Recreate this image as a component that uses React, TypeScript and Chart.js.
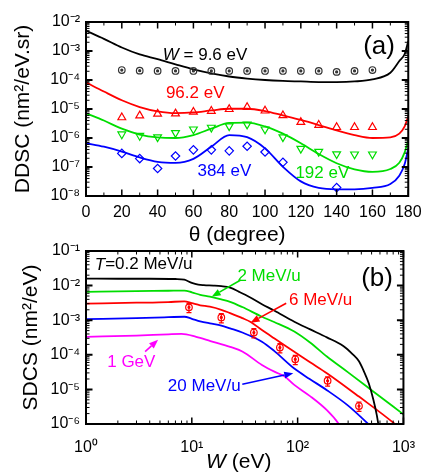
import React, { useEffect, useRef } from 'react';
import { Chart, registerables } from 'chart.js';

Chart.register(...registerables);

const FONT = '"Liberation Sans", Arial, Helvetica, sans-serif';

// ---------------- Panel (a): DDSC vs emission angle ----------------
const thetaTicks = [0, 20, 40, 60, 80, 100, 120, 140, 160, 180];
const thetaMinor = [10, 30, 50, 70, 90, 110, 130, 150, 170];
const ddcsTicks = [1e-8, 1e-7, 1e-6, 1e-5, 1e-4, 1e-3, 1e-2];

const thetaCurve = [0, 10, 20, 30, 40, 50, 60, 70, 80, 90, 100, 110, 120, 130, 140, 150, 160, 170, 175, 178, 180];
const ddcsCurveW9_6 = [5.0e-3, 2.63e-3, 1.32e-3, 7.6e-4, 5.25e-4, 3.47e-4, 2.34e-4, 1.7e-4, 1.32e-4, 1.12e-4, 1.0e-4, 9.3e-5, 8.9e-5, 8.5e-5, 8.5e-5, 8.9e-5, 1.05e-4, 1.78e-4, 4.5e-4, 7.9e-4, 2.2e-3];
const ddcsCurveW96_2 = [8.3e-5, 4.0e-5, 2.0e-5, 1.17e-5, 8.3e-6, 7.2e-6, 7.6e-6, 8.9e-6, 1.02e-5, 1.02e-5, 8.5e-6, 6.0e-6, 4.2e-6, 2.8e-6, 1.82e-6, 1.26e-6, 1.0e-6, 1.05e-6, 1.41e-6, 2.5e-6, 5.6e-6];
const ddcsCurveW192 = [7.1e-6, 4.0e-6, 2.1e-6, 1.32e-6, 1.05e-6, 1.0e-6, 1.26e-6, 2.1e-6, 3.3e-6, 3.4e-6, 2.5e-6, 1.41e-6, 6.6e-7, 2.8e-7, 1.35e-7, 8.3e-8, 6.8e-8, 8.5e-8, 1.41e-7, 3.2e-7, 8.5e-7];
const ddcsCurveW384 = [6.6e-7, 5.0e-7, 3.4e-7, 2.14e-7, 1.51e-7, 1.38e-7, 1.9e-7, 5.0e-7, 1.26e-6, 1.07e-6, 4.4e-7, 1.02e-7, 3.2e-8, 1.9e-8, 1.7e-8, 1.7e-8, 1.9e-8, 2.6e-8, 5.0e-8, 1.26e-7, 4.4e-7];

const thetaExp = [20, 30, 40, 50, 60, 70, 80, 90, 100, 110, 120, 130, 140, 150, 160];
const ddcsExpW9_6 = [2.2e-4, 2.1e-4, 2.05e-4, 2.05e-4, 2.05e-4, 2.05e-4, 2.05e-4, 2.05e-4, 2.05e-4, 2.05e-4, 2.05e-4, 2.05e-4, 1.9e-4, 2.05e-4, 2.2e-4];
const ddcsExpW96_2 = [5.1e-6, 5.9e-6, 6.8e-6, 6.9e-6, 7.9e-6, 8.5e-6, 9.8e-6, 1.15e-5, 8.7e-6, 6.0e-6, 3.5e-6, 2.8e-6, 2.35e-6, 2.35e-6, 2.35e-6];
const ddcsExpW192 = [1.35e-6, 1.2e-6, 1.07e-6, 1.5e-6, 2.0e-6, 2.3e-6, 2.57e-6, 2.95e-6, 2.0e-6, 1.07e-6, 4.3e-7, 3.4e-7, 2.8e-7, 2.75e-7, 2.75e-7];
const thetaExp384 = [20, 30, 40, 50, 60, 70, 80, 90, 100, 110, 140];
const ddcsExpW384 = [2.95e-7, 1.95e-7, 8.9e-8, 2.4e-7, 3.9e-7, 3.9e-7, 3.6e-7, 5.2e-7, 3.3e-7, 1.45e-7, 1.95e-8];

// ---------------- Panel (b): SDCS vs electron energy ----------------
const wTicks = [1, 10, 100, 1000];
const sdcsTicks = [1e-6, 1e-5, 1e-4, 1e-3, 1e-2, 1e-1];

const wT02 = [1, 2, 4, 7, 8.5, 10, 11.5, 13, 16, 19, 23, 28, 35, 46, 60, 93, 130, 189, 270, 330, 380, 420, 470, 520, 560, 600];
const sdcsT02 = [1.6e-2, 1.58e-2, 1.58e-2, 1.55e-2, 1.48e-2, 1.2e-2, 1.07e-2, 1.03e-2, 1.0e-2, 9.6e-3, 8.7e-3, 6.6e-3, 4.7e-3, 2.9e-3, 1.9e-3, 9.0e-4, 5.5e-4, 3.2e-4, 1.8e-4, 1.05e-4, 6.5e-5, 3.5e-5, 1.5e-5, 5e-6, 1.8e-6, 5e-7];

const wT2 = [1, 3, 6, 8.5, 10, 12, 14.8, 19, 23, 30, 46, 60, 93, 130, 189, 300, 500, 1000];
const sdcsT2 = [6.6e-3, 6.9e-3, 7.1e-3, 7.2e-3, 6.4e-3, 5.4e-3, 4.8e-3, 4.0e-3, 3.4e-3, 2.4e-3, 1.26e-3, 8.9e-4, 4.7e-4, 2.3e-4, 8.9e-5, 3.1e-5, 9.5e-6, 1.9e-6];

const wT6 = [1, 3, 6, 8.5, 10, 12, 14.8, 19, 23, 30, 36, 46, 60, 93, 130, 189, 380, 830, 900];
const sdcsT6 = [3.0e-3, 3.2e-3, 3.35e-3, 3.5e-3, 3.1e-3, 2.7e-3, 2.45e-3, 2.0e-3, 1.6e-3, 1.15e-3, 8.9e-4, 5.2e-4, 3.0e-4, 1.23e-4, 6.2e-5, 2.95e-5, 6.2e-6, 1.0e-6, 8e-7];

const wT20 = [1, 3, 6, 8.5, 10, 12, 14.8, 19, 23, 30, 46, 60, 93, 130, 189, 300, 465, 500];
const sdcsT20 = [1.07e-3, 1.15e-3, 1.22e-3, 1.26e-3, 1.1e-3, 9.3e-4, 8.1e-4, 7.0e-4, 5.8e-4, 4.4e-4, 2.4e-4, 1.3e-4, 4.0e-5, 2.0e-5, 9.5e-6, 3.4e-6, 1.0e-6, 8e-7];

const wT1G = [1, 3, 6, 8, 11, 15, 23, 30, 46, 61, 75, 93, 130, 189, 245, 270];
const sdcsT1G = [3.3e-4, 3.6e-4, 3.9e-4, 4.0e-4, 3.3e-4, 2.5e-4, 1.7e-4, 1.25e-4, 5.1e-5, 3.2e-5, 2.4e-5, 1.35e-5, 6.5e-6, 2.5e-6, 1.0e-6, 6e-7];

const wExp6 = [9.4, 19, 38.6, 68, 95, 192, 380];
const sdcsExp6 = [2.35e-3, 1.2e-3, 4.4e-4, 1.62e-4, 7.4e-5, 1.78e-5, 3.3e-6];
const errRelExp6 = [0.3, 0.3, 0.3, 0.3, 0.3, 0.3, 0.3];

// ---------------- helpers ----------------
const SUP: Record<string, string> = { '-': '⁻', '0': '⁰', '1': '¹', '2': '²', '3': '³', '4': '⁴', '5': '⁵', '6': '⁶', '7': '⁷', '8': '⁸', '9': '⁹' };
const pow10Label = (v: number) => {
  const e = Math.round(Math.log10(v));
  return '10' + String(e).split('').map((c) => SUP[c]).join('');
};
const logMinor = (lo: number, hi: number) => {
  const out: number[] = [];
  for (let d = lo; d < hi; d++) for (let k = 2; k <= 9; k++) out.push(k * Math.pow(10, d));
  return out;
};

type Part = { t: string; it?: boolean };
type Note = { x: number; y: number; parts: Part[]; color: string; size: number; align?: 'left' | 'center' };
type Arrow = { x1: number; y1: number; x2: number; y2: number; color: string };

function drawParts(ctx: CanvasRenderingContext2D, parts: Part[], x: number, y: number, size: number, color: string, align: string) {
  const fonts = parts.map((p) => `${p.it ? 'italic ' : ''}${size}px ${FONT}`);
  const widths = parts.map((p, i) => {
    ctx.font = fonts[i];
    return ctx.measureText(p.t).width;
  });
  const total = widths.reduce((a, b) => a + b, 0);
  let cx = align === 'left' ? x : x - total / 2;
  ctx.fillStyle = color;
  ctx.textBaseline = 'middle';
  ctx.textAlign = 'left';
  parts.forEach((p, i) => {
    ctx.font = fonts[i];
    ctx.fillText(p.t, cx, y);
    cx += widths[i];
  });
}

function makeDecor(o: {
  xMajor: number[]; xMinor: number[]; yMajor: number[]; yMinor: number[];
  notes: Note[]; arrows: Arrow[]; xTitle: Part[]; xTitleY: number; xTitleShift: number;
  err?: { xs: number[]; ys: number[]; rel: number[]; color: string };
}) {
  return {
    id: 'decor',
    afterDatasetsDraw(chart: any) {
      const { ctx, chartArea: a, scales } = chart;
      const sx = scales.x, sy = scales.y;
      ctx.save();
      // error bars
      if (o.err) {
        ctx.strokeStyle = o.err.color;
        ctx.lineWidth = 1.2;
        o.err.xs.forEach((xv, i) => {
          const px = sx.getPixelForValue(xv);
          const y1 = sy.getPixelForValue(o.err!.ys[i] * (1 + o.err!.rel[i]));
          const y2 = sy.getPixelForValue(o.err!.ys[i] * (1 - o.err!.rel[i]));
          ctx.beginPath();
          ctx.moveTo(px, y1); ctx.lineTo(px, y2);
          ctx.moveTo(px - 2.5, y1); ctx.lineTo(px + 2.5, y1);
          ctx.moveTo(px - 2.5, y2); ctx.lineTo(px + 2.5, y2);
          ctx.stroke();
        });
      }
      // inward ticks on all four sides
      ctx.strokeStyle = '#000';
      const xt = (vals: number[], len: number, lw: number) => {
        ctx.lineWidth = lw;
        ctx.beginPath();
        vals.forEach((v) => {
          const p = sx.getPixelForValue(v);
          if (p < a.left - 0.5 || p > a.right + 0.5) return;
          ctx.moveTo(p, a.bottom); ctx.lineTo(p, a.bottom - len);
          ctx.moveTo(p, a.top); ctx.lineTo(p, a.top + len);
        });
        ctx.stroke();
      };
      const yt = (vals: number[], len: number, lw: number) => {
        ctx.lineWidth = lw;
        ctx.beginPath();
        vals.forEach((v) => {
          const p = sy.getPixelForValue(v);
          if (p < a.top - 0.5 || p > a.bottom + 0.5) return;
          ctx.moveTo(a.left, p); ctx.lineTo(a.left + len, p);
          ctx.moveTo(a.right, p); ctx.lineTo(a.right - len, p);
        });
        ctx.stroke();
      };
      xt(o.xMinor, 3.5, 1);
      xt(o.xMajor, 6.5, 1.5);
      yt(o.yMinor, 3.5, 1);
      yt(o.yMajor, 6.5, 2);
      ctx.lineWidth = 2;
      ctx.strokeRect(a.left, a.top, a.right - a.left, a.bottom - a.top);
      // arrows
      o.arrows.forEach((ar) => {
        const x1 = sx.getPixelForValue(ar.x1), y1 = sy.getPixelForValue(ar.y1);
        const x2 = sx.getPixelForValue(ar.x2), y2 = sy.getPixelForValue(ar.y2);
        const ang = Math.atan2(y2 - y1, x2 - x1);
        const L = 9, W = 3.5;
        const bx = x2 - L * Math.cos(ang), by = y2 - L * Math.sin(ang);
        ctx.strokeStyle = ar.color;
        ctx.fillStyle = ar.color;
        ctx.lineWidth = 1.6;
        ctx.beginPath();
        ctx.moveTo(x1, y1); ctx.lineTo(bx, by);
        ctx.stroke();
        ctx.beginPath();
        ctx.moveTo(x2, y2);
        ctx.lineTo(bx + W * Math.sin(ang), by - W * Math.cos(ang));
        ctx.lineTo(bx - W * Math.sin(ang), by + W * Math.cos(ang));
        ctx.closePath();
        ctx.fill();
      });
      // text annotations
      o.notes.forEach((n) => {
        drawParts(ctx, n.parts, sx.getPixelForValue(n.x), sy.getPixelForValue(n.y), n.size, n.color, n.align || 'center');
      });
      // x axis title
      drawParts(ctx, o.xTitle, (a.left + a.right) / 2 + o.xTitleShift, o.xTitleY, 21, '#000', 'center');
      ctx.restore();
    },
  };
}

const lineDs = (xs: number[], ys: number[], color: string) => ({
  data: xs.map((x, i) => ({ x, y: ys[i] })),
  showLine: true,
  borderColor: color,
  borderWidth: 1.8,
  pointRadius: 0,
  fill: false,
  cubicInterpolationMode: 'monotone',
});
const markDs = (xs: number[], ys: number[], color: string, style: string, radius: number, rotation = 0, filled = false) => ({
  data: xs.map((x, i) => ({ x, y: ys[i] })),
  showLine: false,
  pointStyle: style,
  pointRadius: radius,
  pointRotation: rotation,
  pointBorderColor: color,
  pointBackgroundColor: filled ? color : 'rgba(0,0,0,0)',
  pointBorderWidth: 1.2,
});

const tickFont = { family: FONT, size: 16 };
const yTitleFont = { family: FONT, size: 21 };

const RED = '#ff0000', GREEN = '#00dd00', BLUE = '#0000ff', MAG = '#ff00ff', BLK = '#000000';

function configA(): any {
  return {
    type: 'scatter',
    data: {
      datasets: [
        markDs(thetaExp, ddcsExpW9_6, '#333', 'circle', 1, 0, true),
        markDs(thetaExp, ddcsExpW9_6, '#333', 'circle', 3.3),
        markDs(thetaExp, ddcsExpW96_2, RED, 'triangle', 4.5),
        markDs(thetaExp, ddcsExpW192, GREEN, 'triangle', 4.5, 180),
        markDs(thetaExp384, ddcsExpW384, BLUE, 'rectRot', 4.2),
        lineDs(thetaCurve, ddcsCurveW9_6, BLK),
        lineDs(thetaCurve, ddcsCurveW96_2, RED),
        lineDs(thetaCurve, ddcsCurveW192, GREEN),
        lineDs(thetaCurve, ddcsCurveW384, BLUE),
      ],
    },
    options: {
      animation: false,
      responsive: false,
      events: [],
      layout: { padding: { top: 22, right: 17, left: 0, bottom: 0 } },
      plugins: { legend: { display: false }, tooltip: { enabled: false } },
      scales: {
        x: {
          type: 'linear', min: 0, max: 180,
          afterBuildTicks: (s: any) => { s.ticks = thetaTicks.map((v) => ({ value: v })); },
          afterFit: (s: any) => { s.height = 54; },
          grid: { display: false, drawTicks: false },
          border: { display: false },
          ticks: { font: tickFont, color: '#000', padding: 7.4, maxRotation: 0, autoSkip: false, callback: (v: any) => String(v) },
        },
        y: {
          type: 'logarithmic', min: 1e-8, max: 1e-2,
          afterBuildTicks: (s: any) => { s.ticks = ddcsTicks.map((v) => ({ value: v })); },
          afterFit: (s: any) => { s.width = 86; },
          grid: { display: false, drawTicks: false },
          border: { display: false },
          ticks: { font: tickFont, color: '#000', padding: 6, autoSkip: false, callback: (v: any) => pow10Label(Number(v)) },
          title: { display: true, text: 'DDSC (nm²/eV.sr)', font: yTitleFont, color: '#000', padding: { top: 11, bottom: 0 } },
        },
      },
    },
    plugins: [
      makeDecor({
        xMajor: thetaTicks, xMinor: thetaMinor, yMajor: ddcsTicks, yMinor: logMinor(-8, -2),
        notes: [
          { x: 66.5, y: 7.2e-4, parts: [{ t: 'W', it: true }, { t: ' = 9.6 eV' }], color: BLK, size: 17 },
          { x: 61, y: 3.6e-5, parts: [{ t: '96.2 eV' }], color: RED, size: 17 },
          { x: 77.3, y: 6.9e-8, parts: [{ t: '384 eV' }], color: BLUE, size: 17 },
          { x: 132, y: 6.3e-8, parts: [{ t: '192 eV' }], color: GREEN, size: 17 },
          { x: 163.7, y: 1.4e-3, parts: [{ t: '(a)' }], color: BLK, size: 26 },
        ],
        arrows: [],
        xTitle: [{ t: 'θ (degree)' }],
        xTitleY: 235,
        xTitleShift: -10,
      }),
    ],
  };
}

function configB(): any {
  return {
    type: 'scatter',
    data: {
      datasets: [
        markDs(wExp6, sdcsExp6, RED, 'circle', 1, 0, true),
        markDs(wExp6, sdcsExp6, RED, 'circle', 3.3),
        lineDs(wT02, sdcsT02, BLK),
        lineDs(wT2, sdcsT2, GREEN),
        lineDs(wT6, sdcsT6, RED),
        lineDs(wT20, sdcsT20, BLUE),
        lineDs(wT1G, sdcsT1G, MAG),
      ],
    },
    options: {
      animation: false,
      responsive: false,
      events: [],
      layout: { padding: { top: 19, right: 17, left: 0, bottom: 0 } },
      plugins: { legend: { display: false }, tooltip: { enabled: false } },
      scales: {
        x: {
          type: 'logarithmic', min: 1, max: 1000,
          afterBuildTicks: (s: any) => { s.ticks = wTicks.map((v) => ({ value: v })); },
          afterFit: (s: any) => { s.height = 48; },
          grid: { display: false, drawTicks: false },
          border: { display: false },
          ticks: { font: tickFont, color: '#000', padding: 14, maxRotation: 0, autoSkip: false, callback: (v: any) => pow10Label(Number(v)) },
        },
        y: {
          type: 'logarithmic', min: 1e-6, max: 1e-1,
          afterBuildTicks: (s: any) => { s.ticks = sdcsTicks.map((v) => ({ value: v })); },
          afterFit: (s: any) => { s.width = 86; },
          grid: { display: false, drawTicks: false },
          border: { display: false },
          ticks: { font: tickFont, color: '#000', padding: 6, autoSkip: false, callback: (v: any) => pow10Label(Number(v)) },
          title: { display: true, text: 'SDCS (nm²/eV)', font: yTitleFont, color: '#000', padding: { top: 19, bottom: 0 } },
        },
      },
    },
    plugins: [
      makeDecor({
        xMajor: wTicks, xMinor: logMinor(0, 3), yMajor: sdcsTicks, yMinor: logMinor(-6, -1),
        notes: [
          { x: 1.21, y: 0.04, parts: [{ t: 'T', it: true }, { t: '=0.2 MeV/u' }], color: BLK, size: 17, align: 'left' },
          { x: 53.7, y: 0.0182, parts: [{ t: '2 MeV/u' }], color: GREEN, size: 17 },
          { x: 165, y: 3.8e-3, parts: [{ t: '6 MeV/u' }], color: RED, size: 17 },
          { x: 2.68, y: 6.0e-5, parts: [{ t: '1 GeV' }], color: MAG, size: 17 },
          { x: 13.1, y: 1.2e-5, parts: [{ t: '20 MeV/u' }], color: BLUE, size: 17 },
          { x: 563, y: 0.0162, parts: [{ t: '(b)' }], color: BLK, size: 26 },
        ],
        arrows: [
          { x1: 29, y1: 0.0145, x2: 15.4, y2: 4.8e-3, color: GREEN },
          { x1: 78, y1: 3.1e-3, x2: 35.9, y2: 8.5e-4, color: RED },
          { x1: 3.62, y1: 1.23e-4, x2: 4.8, y2: 2.7e-4, color: MAG },
          { x1: 30, y1: 1.41e-5, x2: 91, y2: 2.95e-5, color: BLUE },
        ],
        xTitle: [{ t: 'W', it: true }, { t: ' (eV)' }],
        xTitleY: 230,
        xTitleShift: -6,
        err: { xs: wExp6, ys: sdcsExp6, rel: errRelExp6, color: RED },
      }),
    ],
  };
}

export default function App() {
  const refA = useRef<HTMLCanvasElement>(null);
  const refB = useRef<HTMLCanvasElement>(null);
  useEffect(() => {
    const a = new Chart(refA.current as HTMLCanvasElement, configA());
    const b = new Chart(refB.current as HTMLCanvasElement, configB());
    return () => {
      a.destroy();
      b.destroy();
    };
  }, []);
  return (
    <div style={{ position: 'absolute', left: 0, top: 0, width: 429, height: 472, background: '#fff' }}>
      <canvas ref={refA} width={429} height={250} style={{ position: 'absolute', left: 0, top: 0, width: 429, height: 250 }} />
      <canvas ref={refB} width={429} height={240} style={{ position: 'absolute', left: 0, top: 232, width: 429, height: 240 }} />
    </div>
  );
}
